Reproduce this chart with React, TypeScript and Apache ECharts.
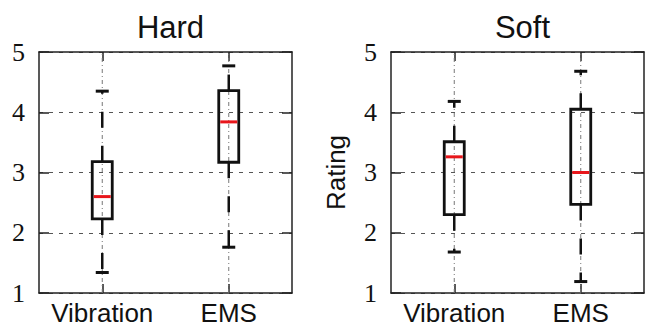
import React, { useEffect, useRef } from "react";
import * as echarts from "echarts";

const categories = ["Vibration", "EMS"];
const panelTitles = ["Hard", "Soft"];
// [min, q1, median, q3, max]
const hardVibration = [1.34, 2.23, 2.6, 3.18, 4.35];
const hardEMS = [1.76, 3.17, 3.84, 4.36, 4.77];
const softVibration = [1.68, 2.3, 3.26, 3.51, 4.18];
const softEMS = [1.19, 2.47, 3.0, 4.05, 4.68];
const yTicks = [1, 2, 3, 4, 5];

const SANS = "Liberation Sans, Arial, Helvetica, sans-serif";
const SERIF = "Liberation Serif, Times New Roman, serif";

function renderBox(params: any, api: any) {
  const x = api.value(0);
  const vmin = api.value(1);
  const q1 = api.value(2);
  const med = api.value(3);
  const q3 = api.value(4);
  const vmax = api.value(5);
  const pMin = api.coord([x, vmin]);
  const pQ1 = api.coord([x, q1]);
  const pMed = api.coord([x, med]);
  const pQ3 = api.coord([x, q3]);
  const pMax = api.coord([x, vmax]);
  const pBot = api.coord([x, yTicks[0]]);
  const pTop = api.coord([x, yTicks[yTicks.length - 1]]);
  const cx = pMed[0];
  const hw = 10;
  const capW = 6.5;
  const black = "#111";
  const dash = { stroke: black, lineWidth: 2.5, lineDash: [16, 18] };
  return {
    type: "group",
    children: [
      {
        type: "line",
        shape: { x1: cx, y1: pBot[1], x2: cx, y2: pTop[1] },
        style: { stroke: "#777", lineWidth: 1, lineDash: [4, 3, 1, 3] },
        z2: 0,
      },
      {
        type: "line",
        shape: { x1: cx, y1: pQ3[1], x2: cx, y2: pMax[1] },
        style: dash,
        z2: 1,
      },
      {
        type: "line",
        shape: { x1: cx, y1: pQ1[1], x2: cx, y2: pMin[1] },
        style: dash,
        z2: 1,
      },
      {
        type: "line",
        shape: { x1: cx - capW, y1: pMax[1], x2: cx + capW, y2: pMax[1] },
        style: { stroke: black, lineWidth: 3 },
        z2: 2,
      },
      {
        type: "line",
        shape: { x1: cx - capW, y1: pMin[1], x2: cx + capW, y2: pMin[1] },
        style: { stroke: black, lineWidth: 3 },
        z2: 2,
      },
      {
        type: "rect",
        shape: { x: cx - hw, y: pQ3[1], width: hw * 2, height: pQ1[1] - pQ3[1] },
        style: { fill: "none", stroke: black, lineWidth: 2.8 },
        z2: 2,
      },
      {
        type: "line",
        shape: { x1: cx - hw + 1.5, y1: pMed[1], x2: cx + hw - 1.5, y2: pMed[1] },
        style: { stroke: "#e8161b", lineWidth: 3 },
        z2: 3,
      },
    ],
  };
}

export default function App() {
  const ref = useRef<HTMLDivElement>(null);
  useEffect(() => {
    if (!ref.current) return;
    const chart = echarts.init(ref.current, undefined, { renderer: "svg" });
    const grids = [
      { left: 39, top: 52, width: 253, height: 241 },
      { left: 391, top: 52, width: 253, height: 241 },
    ];
    const panels = [
      [hardVibration, hardEMS],
      [softVibration, softEMS],
    ];
    const axisLine = { show: true, lineStyle: { color: "#222", width: 1.5 } };
    const xAxis: any[] = [];
    const yAxis: any[] = [];
    const series: any[] = [];
    const title: any[] = [];
    grids.forEach((g, i) => {
      title.push({
        text: panelTitles[i],
        left: g.left + g.width / 2,
        top: 7,
        textAlign: "center",
        textStyle: { fontFamily: SANS, fontSize: 31, fontWeight: "normal", color: "#111" },
      });
      xAxis.push({
        type: "category",
        gridIndex: i,
        data: categories,
        position: "bottom",
        axisLine,
        axisTick: { show: true, inside: true, alignWithLabel: true, length: 9, lineStyle: { color: "#222", width: 1.5 } },
        axisLabel: { fontFamily: SANS, fontSize: 26, color: "#111", margin: 7, interval: 0, hideOverlap: false },
        splitLine: { show: false },
      });
      xAxis.push({
        type: "category",
        gridIndex: i,
        data: categories,
        position: "top",
        axisLine,
        axisTick: { show: true, inside: true, alignWithLabel: true, length: 9, lineStyle: { color: "#222", width: 1.5 } },
        axisLabel: { show: false },
        splitLine: { show: false },
      });
      yAxis.push({
        type: "value",
        gridIndex: i,
        min: 1,
        max: 5,
        interval: 1,
        position: "left",
        name: i === 1 ? "Rating" : "",
        nameLocation: "middle",
        nameRotate: 90,
        nameGap: 42,
        nameTextStyle: { fontFamily: SANS, fontSize: 26, color: "#111" },
        axisLine,
        axisTick: { show: true, inside: true, length: 10, lineStyle: { color: "#222", width: 1.5 } },
        axisLabel: { fontFamily: SERIF, fontSize: 26, color: "#111", margin: 14 },
        splitLine: { show: true, lineStyle: { color: "#555", width: 1, type: [4, 6] } },
      });
      yAxis.push({
        type: "value",
        gridIndex: i,
        min: 1,
        max: 5,
        interval: 1,
        position: "right",
        axisLine,
        axisTick: { show: true, inside: true, length: 10, lineStyle: { color: "#222", width: 1.5 } },
        axisLabel: { show: false },
        splitLine: { show: false },
      });
      series.push({
        type: "custom",
        xAxisIndex: i * 2,
        yAxisIndex: i * 2,
        renderItem: renderBox,
        encode: { x: 0, y: [1, 2, 3, 4, 5] },
        data: panels[i].map((d, k) => [k, ...d]),
        z: 5,
      });
    });
    chart.setOption({
      animation: false,
      backgroundColor: "#fff",
      title,
      grid: grids,
      xAxis,
      yAxis,
      series,
    });
    return () => chart.dispose();
  }, []);
  return (
    <div
      ref={ref}
      style={{ position: "fixed", left: 0, top: 0, width: 646, height: 329 }}
    />
  );
}
